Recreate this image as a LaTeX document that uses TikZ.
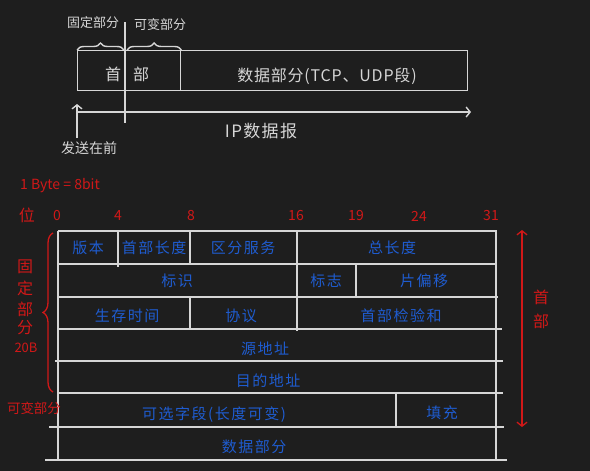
\documentclass[tikz,border=0pt]{standalone}
\usepackage{fontspec}
\newfontfamily\cjk{Noto Sans CJK SC}
\usetikzlibrary{decorations.pathreplacing,arrows.meta}
\definecolor{bg}{HTML}{1E1E1E}
\definecolor{ln}{HTML}{D6D6D6}
\definecolor{bl}{HTML}{1F5CD0}
\definecolor{rd}{HTML}{D01818}
\begin{document}
\begin{tikzpicture}[x=1pt,y=-1pt,
  wl/.style={draw=ln, line width=1.4pt},
  rl/.style={draw=rd, line width=1.3pt},
  barb/.style={-{Straight Barb[length=4pt,width=10pt]}},
  boxn/.style={draw=ln, line width=1.4pt, inner sep=0pt, anchor=north west},
  wt/.style={text=ln, font=\cjk\fontsize{16}{16}\selectfont, inner sep=0pt},
  wts/.style={text=ln, font=\cjk\fontsize{13}{13}\selectfont, inner sep=0pt},
  bt/.style={text=bl, font=\cjk\fontsize{15}{15}\selectfont\addfontfeature{LetterSpace=10}, inner sep=0pt},
  rt/.style={text=rd, font=\cjk\fontsize{15}{15}\selectfont, inner sep=0pt},
  rts/.style={text=rd, font=\cjk\fontsize{13}{13}\selectfont, inner sep=0pt},
]
\fill[bg] (0,0) rectangle (590,471);
\useasboundingbox (0,0) rectangle (590,471);

% ---------- top: IP datagram ----------
\node[boxn, minimum width=103pt, minimum height=40pt] (hdr) at (77,50) {};
\node[boxn, minimum width=287pt, minimum height=40pt] (dat) at (180,50) {};
\node[wt] (shou) at (113,74) {首};
\node[wt] (bu) at (141,74) {部};
\node[wt, font=\cjk\fontsize{16}{16}\selectfont\addfontfeature{LetterSpace=5}] (datt) at (327,76) {数据部分(TCP、UDP段)};
\coordinate (divT) at (125,22);
\coordinate (divB) at (125,123);
\draw[wl] (divT) -- (divB);

\draw[wl, decorate, decoration={brace, amplitude=7pt}] (hdr.north west) -- (124,50);
\draw[wl, decorate, decoration={brace, amplitude=7pt}] (127,50) -- (hdr.north east);
\node[wts] (fixt) at (93,23) {固定部分};
\node[wts] (vart) at (160,25) {可变部分};

\coordinate (ipS) at (77,112);
\coordinate (ipE) at (471,112);
\draw[wl, barb] (ipS) -- (ipE);
\node[wt, font=\cjk\fontsize{17}{17}\selectfont\addfontfeature{LetterSpace=8}] (ipt) at (261,131) {IP数据报};
\node[wts, font=\cjk\fontsize{14}{14}\selectfont] (send) at (89,148) {发送在前};
\coordinate (sendA) at (77,138);
\coordinate (sendB) at (77,104);
\draw[wl, barb] (sendA) -- (sendB);

% ---------- bottom: header table ----------
\node[rts, font=\cjk\fontsize{14}{14}\selectfont] (byte) at (60,186) {1 Byte = 8bit};
\node[rt, font=\cjk\fontsize{16}{16}\selectfont] (wei) at (27,215) {位};
\foreach \n/\x in {0/57,4/118,8/191,16/296,19/356,24/419,31/491}
  \node[rt, font=\cjk\fontsize{14}{14}\selectfont] (b\n) at (\x,216) {\n};

% outer frame and rows
\draw[wl] (58,231) -- (497,231);
\draw[wl] (58,264) -- (497,264);
\draw[wl] (58,297) -- (498,297);
\draw[wl] (58,329) -- (502,329);
\draw[wl] (55,361) -- (503,361);
\draw[wl] (57,393) -- (503,393);
\draw[wl] (49,427) -- (504,427);
\draw[wl] (45,460) -- (507,460);
\draw[wl] (58,231) -- (58,460);
\draw[wl] (496,231) -- (496,460);
% dividers
\draw[wl] (118,231) -- (118,267);
\draw[wl] (190,231) -- (190,264);
\draw[wl] (297,231) -- (297,297);
\draw[wl] (356,264) -- (356,297);
\draw[wl] (190,297) -- (190,329);
\draw[wl] (297,297) -- (297,331);
\draw[wl] (396,393) -- (396,427);

% field labels
\node[bt] (f1) at (88,248) {版本};
\node[bt] (f2) at (154,248) {首部长度};
\node[bt] (f3) at (243,248) {区分服务};
\node[bt] (f4) at (392,248) {总长度};
\node[bt] (f5) at (177,281) {标识};
\node[bt] (f6) at (326,281) {标志};
\node[bt] (f7) at (424,281) {片偏移};
\node[bt] (f8) at (127,316) {生存时间};
\node[bt] (f9) at (241,316) {协议};
\node[bt] (f10) at (401,316) {首部检验和};
\node[bt] (f11) at (265,349) {源地址};
\node[bt] (f12) at (268,381) {目的地址};
\node[bt] (f13) at (214,415) {可选字段(长度可变)};
\node[bt] (f14) at (442,413) {填充};
\node[bt] (f15) at (254,447) {数据部分};

% left red brace and label
\draw[rl, decorate, decoration={brace, amplitude=10pt}] (53,392) -- (53,233);
\node[rt, font=\cjk\fontsize{16}{16}\selectfont] (g1) at (25,267) {固};
\node[rt, font=\cjk\fontsize{16}{16}\selectfont] (g2) at (25,288) {定};
\node[rt, font=\cjk\fontsize{16}{16}\selectfont] (g3) at (25,309) {部};
\node[rt, font=\cjk\fontsize{16}{16}\selectfont] (g4) at (25,328) {分};
\node[rts] (g5) at (26,348) {20B};
\node[rts, font=\cjk\fontsize{13.5}{14}\selectfont] (varl) at (34,408) {可变部分};

% right red arrow
\coordinate (hA) at (522,230);
\coordinate (hB) at (522,427);
\draw[rl, {Straight Barb[length=4pt,width=10pt]}-{Straight Barb[length=4pt,width=10pt]}] (hA) -- (hB);
\node[rt, font=\cjk\fontsize{16}{16}\selectfont] (hs) at (541,297) {首};
\node[rt, font=\cjk\fontsize{16}{16}\selectfont] (hb) at (541,321) {部};
\end{tikzpicture}
\end{document}
